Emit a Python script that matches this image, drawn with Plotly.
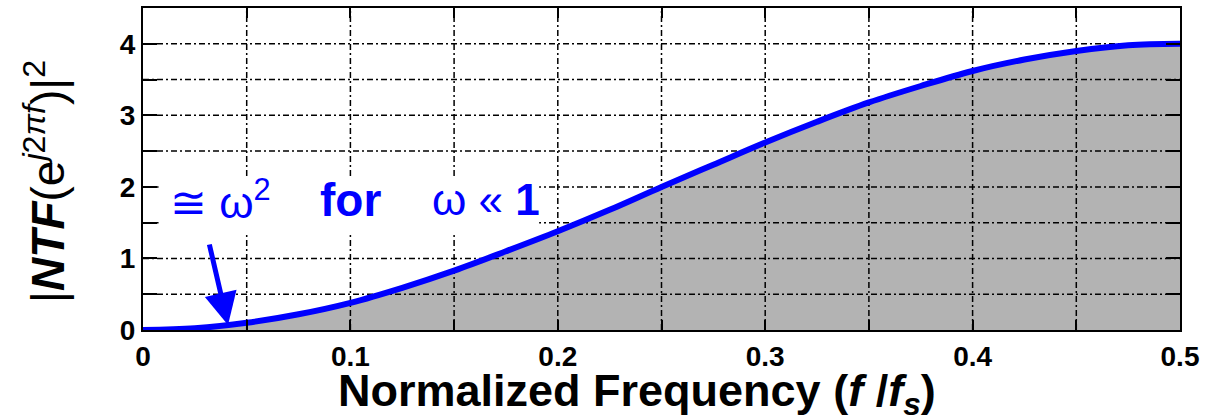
import plotly.graph_objects as go

# Data
freq = [0.0, 0.025, 0.05, 0.075, 0.1, 0.125, 0.15, 0.175, 0.2, 0.225, 0.25,
        0.275, 0.3, 0.325, 0.35, 0.375, 0.4, 0.425, 0.45, 0.475, 0.5]
ntf_sq = [0.0, 0.025, 0.10, 0.22, 0.38, 0.59, 0.83, 1.10, 1.38, 1.68, 2.0,
          2.31, 2.62, 2.91, 3.18, 3.41, 3.62, 3.78, 3.90, 3.98, 4.0]

x_ticks = [0, 0.05, 0.1, 0.15, 0.2, 0.25, 0.3, 0.35, 0.4, 0.45, 0.5]
x_ticktext = ["0", "", "0.1", "", "0.2", "", "0.3", "", "0.4", "", "0.5"]
y_ticks = [0, 0.5, 1, 1.5, 2, 2.5, 3, 3.5, 4, 4.5]
y_ticktext = ["0", "", "1", "", "2", "", "3", "", "4", ""]

X_RANGE = [0, 0.5]
Y_RANGE = [0, 4.5]
FONT = "Arial, Liberation Sans, sans-serif"

fig = go.Figure()

# Gray filled area under the curve
fig.add_trace(go.Scatter(x=freq, y=ntf_sq, mode="lines", line=dict(width=0, shape="spline"),
                         fill="tozeroy", fillcolor="#b3b3b3", hoverinfo="skip", showlegend=False))

# Grid lines (drawn above the fill, below the curve)
gx, gy = [], []
for v in x_ticks[1:-1]:
    gx += [v, v, None]
    gy += [Y_RANGE[0], Y_RANGE[1], None]
for v in y_ticks[1:-1]:
    gx += [X_RANGE[0], X_RANGE[1], None]
    gy += [v, v, None]
fig.add_trace(go.Scatter(x=gx, y=gy, mode="lines",
                         line=dict(color="black", width=1.5, dash="6px,3px,2px,3px"),
                         hoverinfo="skip", showlegend=False))

# Blue curve
fig.add_trace(go.Scatter(x=freq, y=ntf_sq, mode="lines",
                         line=dict(color="#0000ff", width=6, shape="spline"),
                         showlegend=False))

# White box behind the annotation text
fig.add_shape(type="rect", xref="x", yref="y", x0=0.0075, x1=0.191, y0=1.36, y1=2.12,
              fillcolor="white", line=dict(width=0), layer="above")

blue = "#0000ff"
fig.add_annotation(x=0.012, y=1.82, xref="x", yref="y", xanchor="left", yanchor="middle",
                   text="≅ ω<sup>2</sup>", showarrow=False,
                   font=dict(family=FONT, size=44, color=blue))
fig.add_annotation(x=0.0844, y=1.82, xref="x", yref="y", xanchor="left", yanchor="middle",
                   text="<b>for</b>", showarrow=False,
                   font=dict(family=FONT, size=46, color=blue))
fig.add_annotation(x=0.1384, y=1.82, xref="x", yref="y", xanchor="left", yanchor="middle",
                   text="ω « <b>1</b>", showarrow=False,
                   font=dict(family=FONT, size=44, color=blue))

# Arrow
fig.add_annotation(x=0.041, y=0.07, xref="x", yref="y", ax=-19, ay=-82, text="",
                   showarrow=True, arrowhead=2, arrowsize=1.3, arrowwidth=5,
                   arrowcolor=blue, standoff=0)

# X axis title
fig.add_annotation(x=0.476, y=-0.104, xref="paper", yref="paper", xanchor="center", yanchor="top",
                   text="<b>Normalized Frequency (<i>f</i> /<i>f<sub>s</sub></i>)</b>",
                   showarrow=False, font=dict(family=FONT, size=45, color="black"))

# Y axis title
fig.add_annotation(x=-0.0945, y=0.46, xref="paper", yref="paper", xanchor="center", yanchor="middle",
                   textangle=-90,
                   text="|<b><i>NTF</i></b>(e<sup><i>j</i>2<i>πf</i></sup>)|<sup>2</sup>",
                   showarrow=False, font=dict(family=FONT, size=46, color="black"))

fig.update_xaxes(range=X_RANGE, tickvals=x_ticks, ticktext=x_ticktext, automargin=False,
                 showgrid=False, zeroline=False, showline=True, linecolor="black", linewidth=2,
                 mirror="ticks", ticks="inside", ticklen=10, tickwidth=2, tickcolor="black",
                 tickfont=dict(family=FONT, size=28, color="black", weight="bold"))
fig.update_yaxes(range=Y_RANGE, tickvals=y_ticks, ticktext=y_ticktext, automargin=False,
                 showgrid=False, zeroline=False, showline=True, linecolor="black", linewidth=2,
                 mirror="ticks", ticks="inside", ticklen=14, tickwidth=2, tickcolor="black",
                 tickfont=dict(family=FONT, size=28, color="black", weight="bold"))

fig.update_layout(width=1208, height=415, margin=dict(l=143, r=28, t=8, b=85),
                  plot_bgcolor="white", paper_bgcolor="white")

fig.write_html("out.html", config={"displayModeBar": False},
               post_script="document.body.style.margin='0';document.body.style.overflow='hidden';")
